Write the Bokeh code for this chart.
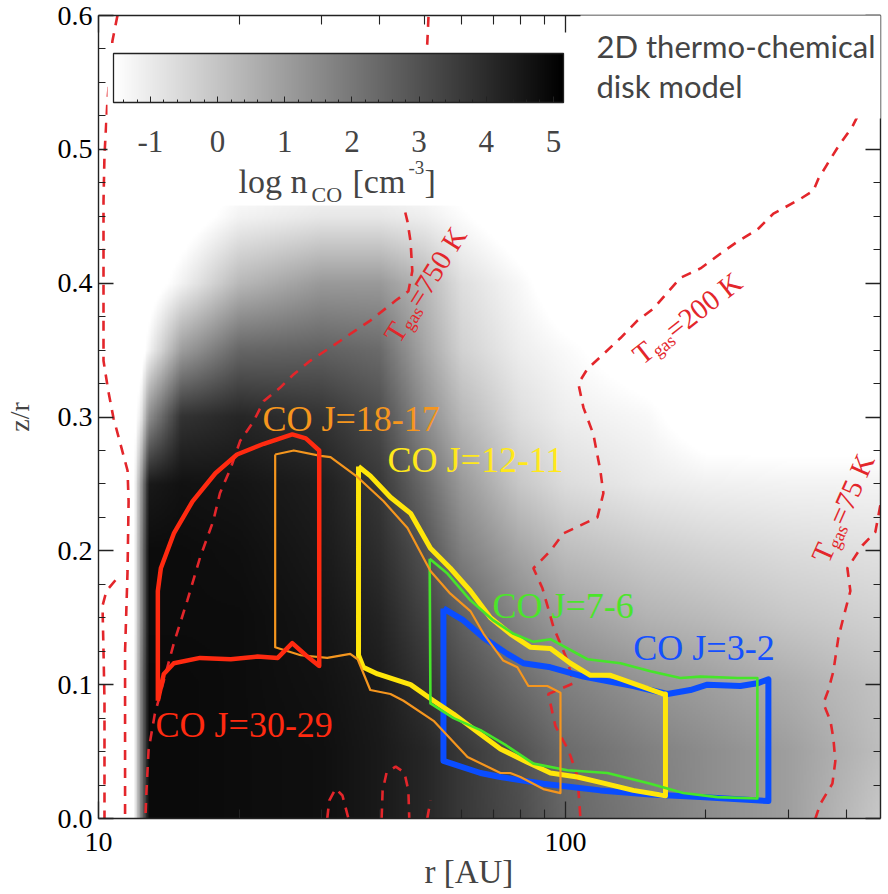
import numpy as np
from bokeh.plotting import figure
from bokeh.models import (Range1d, LinearColorMapper, ColorBar, FixedTicker, LinearAxis, LogAxis,
                          PrintfTickFormatter, BoxAnnotation, Label)
from bokeh.embed import file_html
from bokeh.resources import INLINE

SERIF = "'Liberation Serif'"

# ---------------- data ----------------
# background: log n_CO [cm^-3] read on a coarse grid (rows: z/r from 0.0 up to 0.6)
R_NODES = [10, 11.8, 12.3, 12.8, 15, 20, 30, 40, 50, 60, 80, 100, 150, 200, 300, 473]
Z_NODES = [0.0, 0.05, 0.10, 0.15, 0.20, 0.25, 0.30, 0.35, 0.40, 0.45, 0.50, 0.55, 0.60]
LOGN = [
    [-2, -2, 1.8, 4.88, 4.88, 4.82, 4.75, 4.48, 4.15, 3.68, 3.14, 2.47, 1.93, 1.47, 1.0, -0.08],
    [-2, -2, 1.8, 4.88, 4.88, 4.82, 4.75, 4.48, 4.15, 3.68, 3.0, 2.34, 1.8, 1.47, 1.0, 0.19],
    [-2, -2, 1.8, 4.88, 4.88, 4.82, 4.68, 4.41, 3.81, 3.14, 2.34, 1.8, 1.26, 1.0, 0.59, 0.06],
    [-2, -2, 1.47, 4.82, 4.82, 4.82, 4.61, 4.21, 3.41, 2.6, 1.6, 1.0, 0.46, 0.26, -0.08, -0.34],
    [-2, -2, 1.47, 4.82, 4.82, 4.75, 4.48, 3.94, 3.0, 1.8, 0.8, 0.19, -0.21, -0.41, -0.61, -0.75],
    [-2, -2, 1.13, 4.48, 4.68, 4.61, 4.35, 3.68, 2.34, 1.13, -0.08, -0.61, -1.0, -1.15, -1.22, -1.22],
    [-2, -2, -0.88, 1.47, 3.81, 4.15, 3.81, 3.14, 1.47, 0.33, -0.68, -1.08, -1.35, -2, -2, -2],
    [-2, -2, -2, -1.2, 1.0, 2.47, 2.6, 2.35, 0.8, -0.34, -1.08, -1.4, -2, -2, -2, -2],
    [-2, -2, -2, -2, -1.2, 0.33, 1.13, 1.13, 0.33, -0.68, -1.35, -2, -2, -2, -2, -2],
    [-2, -2, -2, -2, -2, -1.2, -0.9, -0.9, -1.1, -1.45, -2, -2, -2, -2, -2, -2],
    [-2] * 16,
    [-2] * 16,
    [-2] * 16,
]
CB_TICKS = [-1, 0, 1, 2, 3, 4, 5]
Y_TICKS = [0.0, 0.1, 0.2, 0.3, 0.4, 0.5, 0.6]
X_MAJOR = [10, 100]
X_MINOR = [20, 30, 40, 50, 60, 70, 80, 90, 200, 300, 400]

# T_gas contours (r [AU], z/r)
TA_R = [10.98, 10.71, 10.45, 10.30, 10.25, 10.25, 10.50, 10.77, 11.1, 11.54, 11.6, 11.54, 11.4, 11.4]
TA_Z = [0.6, 0.581, 0.536, 0.496, 0.461, 0.342, 0.319, 0.299, 0.282, 0.26, 0.237, 0.185, 0.125, 0.0]
TB_R = [10.87, 10.40, 10.2, 10.25, 10.3, 10.3, 10.3]
TB_Z = [0.178, 0.170, 0.159, 0.125, 0.088, 0.043, 0.0]
T750_R = [50.9, 50.6, 45.4, 44.8, 45.9, 46.6, 47.0, 46.1, 43.3, 38.2, 34.6, 31.4, 28.4, 26.2, 24.5, 22.6,
          21.5, 20.1, 19.2, 18.2, 17.6, 16.5, 15.5, 14.5, 13.8, 13.2, 12.8, 12.67, 12.6]
T750_Z = [0.599, 0.579, 0.469, 0.461, 0.446, 0.431, 0.409, 0.394, 0.387, 0.372, 0.362, 0.352, 0.342, 0.332,
          0.322, 0.312, 0.297, 0.282, 0.262, 0.243, 0.222, 0.195, 0.163, 0.131, 0.103, 0.078, 0.051, 0.021, 0.0]
T200_R = [438.9, 411.7, 382.3, 363.9, 348.2, 339.6, 318.6, 293.0, 278.9, 257.7, 233.5, 214.7, 194.6, 176.3,
          154.3, 142.6, 131.2, 120.6, 111.5, 106.6, 109.3, 114.8, 118.8, 120.6, 117.1, 107.7, 99.0, 92.9,
          85.4, 89.3, 94.3, 101.0, 104.0, 91.9, 95.2, 101.5, 106.1, 107.7]
T200_Z = [0.536, 0.517, 0.501, 0.489, 0.478, 0.469, 0.463, 0.456, 0.452, 0.440, 0.431, 0.422, 0.411, 0.404,
          0.381, 0.372, 0.359, 0.347, 0.336, 0.325, 0.307, 0.287, 0.260, 0.243, 0.225, 0.219, 0.213, 0.200,
          0.187, 0.172, 0.143, 0.118, 0.101, 0.093, 0.069, 0.051, 0.032, 0.0]
T75_R = [472.6, 461.1, 432.5, 401.7, 407.7, 393.8, 384.2, 378.6, 374.9, 365.8, 356.9, 369.5, 374.9, 378.6,
         373.1, 351.6, 343.1]
T75_Z = [0.234, 0.214, 0.204, 0.187, 0.170, 0.150, 0.135, 0.120, 0.110, 0.096, 0.086, 0.073, 0.060, 0.043,
         0.026, 0.011, 0.0]
TS1_R = [30.9, 31.2, 32.2, 33.3, 34.3]
TS1_Z = [0.0, 0.0134, 0.0224, 0.0172, 0.0]
TS2_R = [40.4, 40.6, 41.4, 43.3, 45.2, 46.1, 46.3]
TS2_Z = [0.0, 0.0209, 0.0343, 0.0388, 0.0343, 0.0209, 0.0]
TS3_R = [50.6, 51.4]
TS3_Z = [0.0, 0.0134]

# CO emitting regions
CO30_R = [13.4, 13.4, 13.6, 14.5, 15.9, 17.8, 19.8, 22.6, 26.0, 27.8, 29.7, 29.7, 27.8, 26.0, 24.2, 21.9,
          19.2, 16.5, 14.5, 13.8, 13.4]
CO30_Z = [0.088, 0.170, 0.187, 0.213, 0.237, 0.258, 0.272, 0.280, 0.287, 0.284, 0.275, 0.114, 0.122, 0.131,
          0.120, 0.121, 0.119, 0.120, 0.116, 0.108, 0.088]
CO18_R = [23.9, 26.2, 29.9, 31.4, 35.9, 40.8, 45.9, 51.4, 56.7, 62.6, 66.8, 73.6, 78.9, 83.3, 91.5, 97.6,
          97.6, 89.7, 80.1, 76.2, 72.6, 61.7, 52.2, 45.0, 42.2, 38.2, 35.9, 34.6, 30.9, 27.1, 23.9, 23.9]
CO18_Z = [0.272, 0.275, 0.271, 0.270, 0.255, 0.237, 0.217, 0.185, 0.168, 0.155, 0.138, 0.118, 0.113, 0.099,
          0.099, 0.094, 0.019, 0.022, 0.031, 0.034, 0.034, 0.046, 0.073, 0.088, 0.093, 0.096, 0.119, 0.123,
          0.120, 0.122, 0.128, 0.272]
CO12_R = [36.05, 38.2, 42.2, 46.6, 51.4, 56.7, 62.6, 69.1, 76.2, 84.1, 92.9, 102.5, 113.1, 124.9, 162.2,
          163.8, 163.8, 139.8, 118.8, 106.1, 92.9, 82.9, 72.6, 65.8, 57.6, 52.2, 46.6, 39.6, 36.9, 36.05, 36.05]
CO12_Z = [0.263, 0.256, 0.240, 0.228, 0.202, 0.187, 0.170, 0.150, 0.138, 0.128, 0.127, 0.116, 0.107, 0.107,
          0.093, 0.093, 0.017, 0.021, 0.027, 0.031, 0.034, 0.042, 0.052, 0.063, 0.078, 0.088, 0.100, 0.108,
          0.113, 0.122, 0.263]
CO7_R = [51.2, 55.9, 62.6, 70.1, 77.4, 85.4, 92.9, 111.5, 131.2, 152.1, 176.3, 194.6, 233.5, 257.7, 257.7,
         211.6, 178.9, 152.1, 123.0, 101.0, 85.4, 74.4, 65.8, 57.6, 51.4, 51.2]
CO7_Z = [0.194, 0.183, 0.163, 0.148, 0.138, 0.132, 0.134, 0.119, 0.116, 0.110, 0.105, 0.106, 0.105, 0.105,
         0.015, 0.016, 0.019, 0.026, 0.034, 0.036, 0.041, 0.055, 0.066, 0.075, 0.086, 0.194]
CO3_R = [54.8, 60.5, 66.8, 75.1, 81.3, 92.9, 109.3, 139.8, 165.4, 185.2, 201.4, 237.0, 257.7, 272.1, 272.1,
         194.6, 152.1, 118.8, 89.7, 72.6, 65.8, 54.8, 54.8]
CO3_Z = [0.157, 0.148, 0.135, 0.123, 0.116, 0.113, 0.106, 0.099, 0.093, 0.096, 0.100, 0.099, 0.101, 0.104,
         0.013, 0.016, 0.018, 0.021, 0.026, 0.031, 0.034, 0.043, 0.157]

CO_LABELS = ["CO J=30-29", "CO J=18-17", "CO J=12-11", "CO J=7-6", "CO J=3-2"]
CO_LABEL_POS = [(13.25, 0.069), (22.45, 0.298), (41.6, 0.267), (69.8, 0.158), (139.8, 0.127)]
T_LABELS = ["750", "200", "75"]
T_LABEL_POS = [(42.6, 0.357), (142.6, 0.343), (353.0, 0.192)]
T_LABEL_ANGLE = [58, 38, 66]

# ---------------- figure ----------------
R_MIN, R_MAX = 10, 473
p = figure(frame_width=782, frame_height=803, x_axis_type="log",
           x_range=Range1d(R_MIN, R_MAX), y_range=Range1d(0, 0.6),
           output_backend="svg", toolbar_location=None,
           min_border_left=98, min_border_right=8, min_border_top=15, min_border_bottom=76)
p.outline_line_color = None
p.xgrid.grid_line_color = None
p.ygrid.grid_line_color = None
p.background_fill_color = "white"
p.border_fill_color = "white"

palette = ["#%02x%02x%02x" % (g, g, g) for g in np.linspace(255, 0, 256).astype(int)]
mapper = LinearColorMapper(palette=palette, low=-1.55, high=5.15, low_color="white", high_color="black")

# smooth the read grid onto a fine display grid (uniform in log r)
grid = np.array(LOGN, dtype=float)
nx, ny = 500, 400
lr_f = np.linspace(np.log10(R_MIN), np.log10(R_MAX), nx)
z_f = np.linspace(0, 0.6, ny)
lr_nodes = np.log10(R_NODES)
tmp = np.array([np.interp(z_f, Z_NODES, grid[:, j]) for j in range(grid.shape[1])])
img = np.array([np.interp(lr_f, lr_nodes, tmp[:, i]) for i in range(ny)])
p.image(image=[img], x=R_MIN, y=0, dw=R_MAX - R_MIN, dh=0.6, color_mapper=mapper)

# temperature contours
RED_D = "#e3262b"
for rr, zz in [(TA_R, TA_Z), (TB_R, TB_Z), (T750_R, T750_Z), (T200_R, T200_Z), (T75_R, T75_Z),
               (TS1_R, TS1_Z), (TS2_R, TS2_Z), (TS3_R, TS3_Z)]:
    p.line(rr, zz, line_color=RED_D, line_width=2.6, line_dash="10 8")

# CO regions
p.line(CO3_R, CO3_Z, line_color="#0a4dff", line_width=6, line_join="round")
p.line(CO12_R, CO12_Z, line_color="#ffe60a", line_width=5, line_join="round")
p.line(CO7_R, CO7_Z, line_color="#46e52a", line_width=2.6, line_join="round")
p.line(CO18_R, CO18_Z, line_color="#f5961e", line_width=2.2, line_join="round")
p.line(CO30_R, CO30_Z, line_color="#ff2a10", line_width=4.5, line_join="round")

CO_COLORS = ["#ff2a10", "#f5961e", "#ffe81a", "#4be52a", "#1450ff"]
for txt, (rx, zy), col in zip(CO_LABELS, CO_LABEL_POS, CO_COLORS):
    p.add_layout(Label(x=rx, y=zy, y_offset=1, text=txt, text_color=col, text_font=SERIF,
                       text_font_size="36px", text_baseline="alphabetic", text_align="left"))

# T_gas labels (rotated, with subscript)
def tgas_label(rx, zy, ang_deg, val):
    th = float(np.radians(ang_deg))
    ux, uy = np.cos(th), np.sin(th)
    dx, dy = np.sin(th), -np.cos(th)
    pieces = [("T", 0.0, -2.0, "29px"), ("gas", 17.5, 5.5, "18px"), ("=" + val + " K", 41.5, -2.0, "29px")]
    for t, a, s, fs in pieces:
        p.add_layout(Label(x=rx, y=zy, x_offset=float(a * ux + s * dx), y_offset=float(a * uy + s * dy),
                           text=t, angle=th, text_color=RED_D, text_font=SERIF, text_font_size=fs,
                           text_baseline="alphabetic", text_align="left"))

for val, (rx, zy), ang in zip(T_LABELS, T_LABEL_POS, T_LABEL_ANGLE):
    tgas_label(rx, zy, ang, val)

# ---------------- axes ----------------
def style_axis(ax, labels=True, major=15, minor=7):
    ax.major_tick_in = major
    ax.major_tick_out = 0
    ax.minor_tick_in = minor
    ax.minor_tick_out = 0
    ax.axis_line_color = "#222222"
    ax.axis_line_width = 1.4
    ax.major_tick_line_color = "#222222"
    ax.minor_tick_line_color = "#222222"
    ax.major_tick_line_width = 1.3
    ax.minor_tick_line_width = 1.1
    ax.major_label_text_font = SERIF
    ax.major_label_text_font_size = "28px"
    ax.major_label_text_color = "black"
    if not labels:
        ax.major_label_text_font_size = "2px"
        ax.major_label_text_alpha = 0
        ax.major_label_standoff = 0

y_minor = [round(0.025 * k, 3) for k in range(25) if k % 4]

xb = p.below[0]
xb.ticker = FixedTicker(ticks=X_MAJOR, minor_ticks=X_MINOR)
xb.formatter = PrintfTickFormatter(format="%d")
style_axis(xb, major=17, minor=9)
xb.major_label_standoff = 14
# trailing no-break spaces shift the centred title left, as in the original
xb.axis_label = "r [AU]" + "\u00a0" * 5
xb.axis_label_text_font = SERIF
xb.axis_label_text_font_size = "33px"
xb.axis_label_text_font_style = "normal"
xb.axis_label_standoff = 0

yl = p.left[0]
yl.ticker = FixedTicker(ticks=Y_TICKS, minor_ticks=y_minor)
yl.formatter = PrintfTickFormatter(format="%.1f")
style_axis(yl)
yl.major_label_standoff = 6
yl.axis_label = "z/r"
yl.axis_label_text_font = SERIF
yl.axis_label_text_font_size = "28px"
yl.axis_label_text_font_style = "normal"
yl.axis_label_standoff = 20

xt = LogAxis(ticker=FixedTicker(ticks=X_MAJOR, minor_ticks=X_MINOR),
             formatter=PrintfTickFormatter(format="%d"))
style_axis(xt, labels=False, major=17, minor=9)
p.add_layout(xt, "above")
yr = LinearAxis(ticker=FixedTicker(ticks=Y_TICKS, minor_ticks=y_minor),
                formatter=PrintfTickFormatter(format="%.1f"))
style_axis(yr, labels=False)
p.add_layout(yr, "right")

# ---------------- colour bar inset ----------------
p.add_layout(BoxAnnotation(left=9, right=474, top=773, bottom=613, left_units="screen",
                           right_units="screen", top_units="screen", bottom_units="screen",
                           fill_color="white", fill_alpha=1.0, line_alpha=0))
cb = ColorBar(color_mapper=mapper, orientation="horizontal", width=450, height=49,
              ticker=FixedTicker(ticks=CB_TICKS,
                                 minor_ticks=[float(v) for v in np.arange(-1.4, 5.1, 0.2).round(1)]),
              formatter=PrintfTickFormatter(format="%d"),
              major_label_text_font=SERIF, major_label_text_font_size="31px",
              label_standoff=28, padding=0, margin=0, location=(15, 664),
              background_fill_alpha=0, border_line_alpha=0,
              bar_line_color="#222222", bar_line_width=1.3,
              major_tick_line_color="#222222", major_tick_in=6, major_tick_out=0,
              minor_tick_line_color="#222222", minor_tick_in=3, minor_tick_out=0)
p.add_layout(cb)

for t, x, y, fs in [("log n", 140, 637, "34px"), ("CO", 213, 624, "22px"),
                    ("[cm", 254, 637, "34px"), ("-3", 310, 651, "19px"), ("]", 326, 637, "34px")]:
    p.add_layout(Label(x=x, y=y, x_units="screen", y_units="screen", text=t, text_font=SERIF,
                       text_font_size=fs, text_align="left", text_baseline="alphabetic"))

# ---------------- model caption ----------------
p.add_layout(BoxAnnotation(left=482, right=792, top=810, bottom=700, left_units="screen",
                           right_units="screen", top_units="screen", bottom_units="screen",
                           fill_color="white", fill_alpha=1.0, line_alpha=0))
for t, y in [("2D thermo-chemical", 773), ("disk model", 733)]:
    p.add_layout(Label(x=498, y=y, x_units="screen", y_units="screen", text=t, text_font="Lato",
                       text_font_size="31px", text_align="left", text_baseline="alphabetic"))

open("out.html", "w").write(file_html(p, INLINE))
